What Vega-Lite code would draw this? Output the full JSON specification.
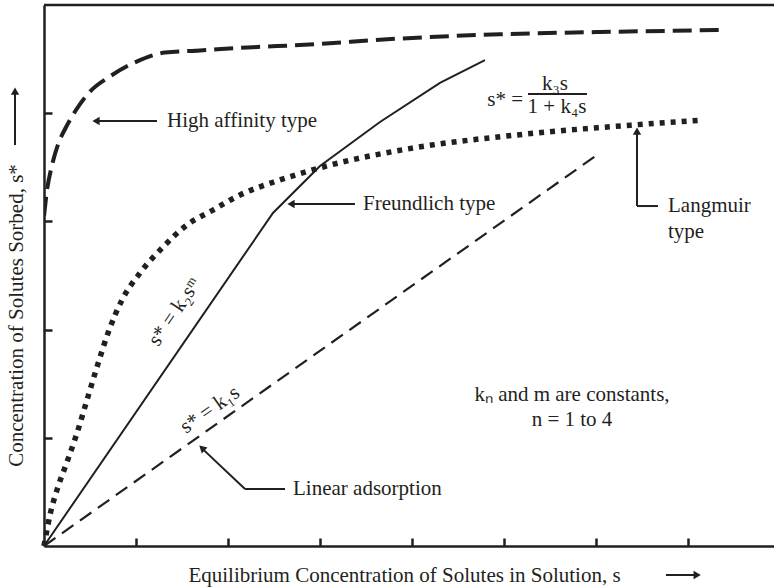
{
  "$schema": "https://vega.github.io/schema/vega-lite/v6.json",
  "width": 730,
  "height": 541,
  "autosize": {"type": "none"},
  "padding": {"left": 44, "top": 5, "right": 0, "bottom": 41},
  "background": "white",
  "config": {
    "view": {"stroke": null},
    "font": "Liberation Serif",
    "text": {"font": "Liberation Serif", "fontSize": 21, "color": "#231f20"}
  },
  "datasets": {
    "curves": [
      {"series": "High affinity", "s": 0, "q": 3.05},
      {"series": "High affinity", "s": 0.033, "q": 3.29},
      {"series": "High affinity", "s": 0.087, "q": 3.52},
      {"series": "High affinity", "s": 0.152, "q": 3.71},
      {"series": "High affinity", "s": 0.239, "q": 3.87},
      {"series": "High affinity", "s": 0.348, "q": 4.03},
      {"series": "High affinity", "s": 0.5, "q": 4.2},
      {"series": "High affinity", "s": 0.717, "q": 4.34},
      {"series": "High affinity", "s": 0.989, "q": 4.47},
      {"series": "High affinity", "s": 1.315, "q": 4.56},
      {"series": "High affinity", "s": 1.696, "q": 4.58},
      {"series": "High affinity", "s": 2.27, "q": 4.61},
      {"series": "High affinity", "s": 2.78, "q": 4.63},
      {"series": "High affinity", "s": 3.87, "q": 4.69},
      {"series": "High affinity", "s": 4.96, "q": 4.73},
      {"series": "High affinity", "s": 6.04, "q": 4.75},
      {"series": "High affinity", "s": 7.42, "q": 4.77},
      {"series": "Freundlich", "s": 0, "q": 0},
      {"series": "Freundlich", "s": 2.489, "q": 3.078},
      {"series": "Freundlich", "s": 3.0, "q": 3.512},
      {"series": "Freundlich", "s": 3.652, "q": 3.919},
      {"series": "Freundlich", "s": 4.304, "q": 4.28},
      {"series": "Freundlich", "s": 4.793, "q": 4.49},
      {"series": "Langmuir", "s": 0, "q": 0},
      {"series": "Langmuir", "s": 0.022, "q": 0.102},
      {"series": "Langmuir", "s": 0.065, "q": 0.287},
      {"series": "Langmuir", "s": 0.141, "q": 0.518},
      {"series": "Langmuir", "s": 0.25, "q": 0.776},
      {"series": "Langmuir", "s": 0.359, "q": 1.044},
      {"series": "Langmuir", "s": 0.467, "q": 1.349},
      {"series": "Langmuir", "s": 0.576, "q": 1.654},
      {"series": "Langmuir", "s": 0.696, "q": 1.969},
      {"series": "Langmuir", "s": 0.848, "q": 2.274},
      {"series": "Langmuir", "s": 1.043, "q": 2.523},
      {"series": "Langmuir", "s": 1.293, "q": 2.763},
      {"series": "Langmuir", "s": 1.554, "q": 2.967},
      {"series": "Langmuir", "s": 1.837, "q": 3.105},
      {"series": "Langmuir", "s": 2.13, "q": 3.244},
      {"series": "Langmuir", "s": 2.565, "q": 3.383},
      {"series": "Langmuir", "s": 3.033, "q": 3.503},
      {"series": "Langmuir", "s": 4.011, "q": 3.678},
      {"series": "Langmuir", "s": 5.141, "q": 3.799},
      {"series": "Langmuir", "s": 6.402, "q": 3.891},
      {"series": "Langmuir", "s": 7.163, "q": 3.937},
      {"series": "Linear", "s": 0, "q": 0},
      {"series": "Linear", "s": 6.011, "q": 3.614}
    ],
    "arrowLines": [
      {"id": "high", "s": 1.228, "q": 3.928, "s2": 0.56, "q2": 3.928},
      {"id": "freund", "s": 3.38, "q": 3.161, "s2": 2.68, "q2": 3.161},
      {"id": "lang1", "s": 6.446, "q": 3.142, "s2": 6.446, "q2": 3.84},
      {"id": "lang2", "s": 6.446, "q": 3.142, "s2": 6.674, "q2": 3.142},
      {"id": "lin1", "s": 2.185, "q": 0.527, "s2": 1.72, "q2": 0.9},
      {"id": "lin2", "s": 2.185, "q": 0.527, "s2": 2.62, "q2": 0.527},
      {"id": "xaxis", "s": 6.76, "q": -0.268, "s2": 7.08, "q2": -0.268},
      {"id": "yaxis", "s": -0.315, "q": 3.706, "s2": -0.315, "q2": 4.2},
      {"id": "frac", "s": 5.261, "q": 4.177, "s2": 5.902, "q2": 4.177}
    ],
    "heads": [
      {"s": 0.565, "q": 3.928, "shape": "triangle-left", "angle": 0},
      {"s": 2.685, "q": 3.161, "shape": "triangle-left", "angle": 0},
      {"s": 6.446, "q": 3.835, "shape": "triangle-up", "angle": 0},
      {"s": 1.717, "q": 0.906, "shape": "triangle-up", "angle": -47},
      {"s": 7.1, "q": -0.268, "shape": "triangle-right", "angle": 0},
      {"s": -0.315, "q": 4.205, "shape": "triangle-up", "angle": 0}
    ],
    "labelsLeft": [
      {"s": 1.337, "q": 3.928, "label": "High affinity type"},
      {"s": 3.467, "q": 3.161, "label": "Freundlich type"},
      {"s": 6.783, "q": 3.142, "label": "Langmuir"},
      {"s": 6.783, "q": 2.902, "label": "type"},
      {"s": 2.707, "q": 0.527, "label": "Linear adsorption"}
    ],
    "labelsCenter": [
      {"s": 5.554, "q": 4.27, "label": "k₃s"},
      {"s": 5.576, "q": 4.057, "label": "1 + k₄s"},
      {"s": 5.739, "q": 1.396, "label": "kₙ and m are constants,"},
      {"s": 5.739, "q": 1.165, "label": "n = 1 to 4"}
    ],
    "labelsRight": [
      {"s": 5.207, "q": 4.122, "label": "s* ="}
    ],
    "rot56": [
      {"s": 1.424, "q": 2.163, "label": "s* = k₂sᵐ"}
    ],
    "rot35": [
      {"s": 1.804, "q": 1.257, "label": "s* = k₁s"}
    ]
  },
  "encoding": {
    "x": {
      "field": "s", "type": "quantitative",
      "scale": {"domain": [0, 7.935], "nice": false, "zero": false},
      "axis": {
        "title": "Equilibrium Concentration of Solutes in Solution, s",
        "titleFont": "Liberation Serif", "titleFontSize": 21, "titleFontWeight": "normal",
        "titleColor": "#231f20", "titleX": 360, "titleY": 29, "titleBaseline": "middle",
        "values": [1, 2, 3, 4, 5, 6, 7], "labels": false, "grid": false,
        "domainColor": "#231f20", "domainWidth": 2.5, "tickColor": "#231f20",
        "tickWidth": 2.5, "tickSize": -8
      }
    },
    "y": {
      "field": "q", "type": "quantitative",
      "scale": {"domain": [0, 5], "nice": false, "zero": false},
      "axis": {
        "title": "Concentration of Solutes Sorbed, s*",
        "titleFont": "Liberation Serif", "titleFontSize": 21, "titleFontWeight": "normal",
        "titleColor": "#231f20", "titleX": -28, "titleY": 310, "titleBaseline": "middle",
        "titleAngle": -90, "titleAlign": "center",
        "values": [1, 2, 3, 4], "labels": false, "grid": false,
        "domainColor": "#231f20", "domainWidth": 2.5, "tickColor": "#231f20",
        "tickWidth": 2.5, "tickSize": -8
      }
    }
  },
  "layer": [
    {
      "data": {"values": [{"top": 5}]},
      "mark": {"type": "rule", "color": "#231f20", "strokeWidth": 2.5},
      "encoding": {"y": {"field": "top", "type": "quantitative"}, "x": null}
    },
    {
      "data": {"name": "curves"},
      "transform": [{"filter": "datum.series === 'High affinity'"}],
      "mark": {"type": "line", "color": "#231f20", "strokeWidth": 4, "strokeDash": [19, 8], "strokeCap": "butt", "interpolate": "monotone", "clip": true}
    },
    {
      "data": {"name": "curves"},
      "transform": [{"filter": "datum.series === 'Freundlich'"}],
      "mark": {"type": "line", "color": "#231f20", "strokeWidth": 2}
    },
    {
      "data": {"name": "curves"},
      "transform": [{"filter": "datum.series === 'Langmuir'"}],
      "mark": {"type": "line", "color": "#231f20", "strokeWidth": 5.5, "strokeDash": [5, 6], "strokeCap": "butt", "interpolate": "monotone"}
    },
    {
      "data": {"name": "curves"},
      "transform": [{"filter": "datum.series === 'Linear'"}],
      "mark": {"type": "line", "color": "#231f20", "strokeWidth": 2.2, "strokeDash": [14, 8], "strokeCap": "butt"}
    },
    {
      "data": {"name": "arrowLines"},
      "mark": {"type": "rule", "color": "#231f20", "strokeWidth": 2},
      "encoding": {
        "x2": {"field": "s2"},
        "y2": {"field": "q2"}
      }
    },
    {
      "data": {"name": "heads"},
      "mark": {"type": "point", "filled": true, "color": "#231f20", "size": 70, "opacity": 1},
      "encoding": {
        "shape": {"field": "shape", "type": "nominal", "scale": null, "legend": null},
        "angle": {"field": "angle", "type": "quantitative", "scale": null}
      }
    },
    {
      "data": {"name": "labelsLeft"},
      "mark": {"type": "text", "align": "left", "baseline": "middle"},
      "encoding": {"text": {"field": "label"}}
    },
    {
      "data": {"name": "labelsCenter"},
      "mark": {"type": "text", "align": "center", "baseline": "middle"},
      "encoding": {"text": {"field": "label"}}
    },
    {
      "data": {"name": "labelsRight"},
      "mark": {"type": "text", "align": "right", "baseline": "middle"},
      "encoding": {"text": {"field": "label"}}
    },
    {
      "data": {"name": "rot56"},
      "mark": {"type": "text", "align": "center", "baseline": "middle", "angle": 304},
      "encoding": {"text": {"field": "label"}}
    },
    {
      "data": {"name": "rot35"},
      "mark": {"type": "text", "align": "center", "baseline": "middle", "angle": 325},
      "encoding": {"text": {"field": "label"}}
    }
  ]
}
